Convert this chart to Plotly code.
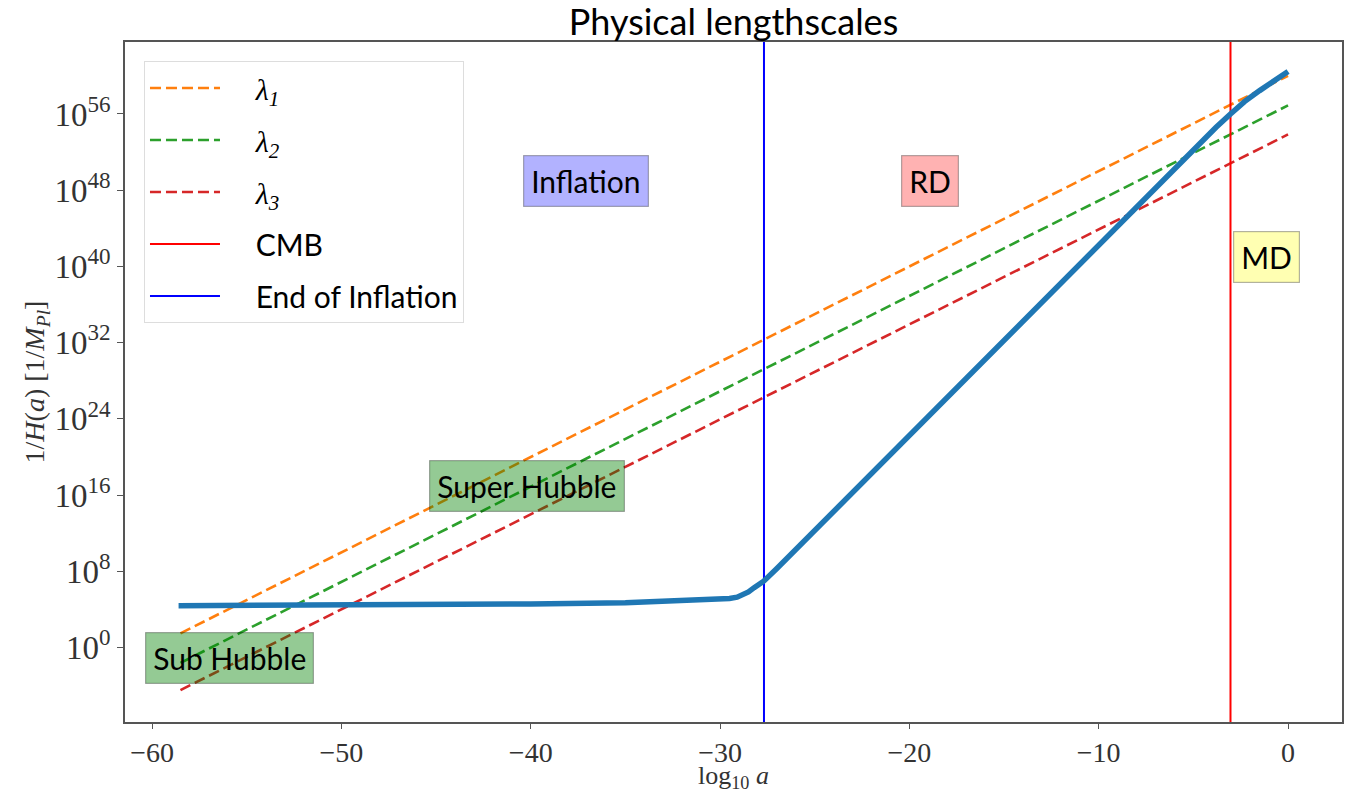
import plotly.graph_objects as go

# ---------------- data ----------------
# log10(a) grid and log10(1/H) of the Hubble length curve
hubble_loga = [-58.6, -55, -50, -45, -40, -35, -31.6, -30, -29.5, -29.1, -28.8, -28.5,
               -28.2, -27.68, -27.0, -25, -20, -15, -10, -6, -4.6, -3.8, -3.04, -2.3,
               -1.5, 0.0]
hubble_logy = [4.40, 4.42, 4.45, 4.50, 4.58, 4.72, 4.92, 5.06, 5.16, 5.30, 5.50, 5.85,
               6.3, 7.0, 8.3, 12.3, 22.3, 32.3, 42.3, 50.3, 53.1, 54.6, 56.0, 57.3,
               58.45, 60.45]

# physical wavelengths lambda_i  (slope 1 in log-log)
lam_loga = [-58.5, 0.0]
lam1_logy = [1.5, 60.0]
lam2_logy = [-1.6, 56.9]
lam3_logy = [-4.45, 53.85]

lam_names = ["λ<sub>1</sub>", "λ<sub>2</sub>", "λ<sub>3</sub>"]
lam_colors = ["#ff7f0e", "#2ca02c", "#d62728"]

cmb_loga = -3.04
end_inflation_loga = -27.68

# region labels: text, x (log10 a), y (log10 of value), fill colour
label_texts = ["Inflation", "RD", "MD", "Super Hubble", "Sub Hubble"]
label_x = [-37.1, -18.9, -1.16, -40.2, -55.9]
label_y = [49.0, 49.0, 41.0, 17.0, -1.08]
label_fill = ["rgba(0,0,255,0.3)", "rgba(255,0,0,0.3)", "rgba(255,255,0,0.3)",
              "rgba(0,128,0,0.42)", "rgba(0,128,0,0.42)"]

x_ticks = [-60, -50, -40, -30, -20, -10, 0]
y_tick_exps = [0, 8, 16, 24, 32, 40, 48, 56]
y_tick_text = ["10<sup>%d</sup>" % e for e in y_tick_exps]

X_RANGE = [-61.43, 2.85]
Y_RANGE = [-7.8, 63.55]

SANS = "Lato"
SERIF = "Liberation Serif"
GAP = "&nbsp;" * 4


def p10(v):
    return float(10.0 ** float(v))


# ---------------- figure ----------------
fig = go.Figure()

for i, (name, ys, col) in enumerate(zip(lam_names, [lam1_logy, lam2_logy, lam3_logy], lam_colors)):
    fig.add_trace(go.Scatter(
        x=lam_loga, y=[p10(v) for v in ys], mode="lines",
        name=GAP + "<span style='font-family:%s'><i>%s</i></span>" % (SERIF, name),
        line=dict(color=col, width=2.6, dash="11px,5px"),
        legendgroup="g%d" % i,
    ))

fig.add_trace(go.Scatter(
    x=[cmb_loga, cmb_loga], y=[p10(Y_RANGE[0]), p10(Y_RANGE[1])], mode="lines",
    name=GAP + "CMB", line=dict(color="#ff0000", width=2), legendgroup="g3",
))
fig.add_trace(go.Scatter(
    x=[end_inflation_loga, end_inflation_loga], y=[p10(Y_RANGE[0]), p10(Y_RANGE[1])],
    mode="lines", name=GAP + "End of Inflation", line=dict(color="#0000ff", width=2),
    legendgroup="g4",
))

fig.add_trace(go.Scatter(
    x=hubble_loga, y=[p10(v) for v in hubble_logy], mode="lines",
    line=dict(color="#1f77b4", width=5.5),
    showlegend=False,
))

for t, x, y, c in zip(label_texts, label_x, label_y, label_fill):
    fig.add_annotation(
        x=x, y=y, xref="x", yref="y", text=t, showarrow=False,
        font=dict(family=SANS, size=30, color="black"),
        bgcolor=c, bordercolor="rgba(0,0,0,0.3)", borderwidth=1.2, borderpad=7,
        xanchor="center", yanchor="middle",
    )

# x-axis label placed below the tick labels
fig.add_annotation(
    x=0.5, y=-(777 - 722) / 680, xref="paper", yref="paper",
    text="log<sub>10</sub> <i>a</i>", showarrow=False,
    font=dict(family=SERIF, size=26, color="#333"),
    xanchor="center", yanchor="middle",
)

fig.update_layout(
    width=1345, height=795,
    margin=dict(l=125, r=3, t=42, b=73),
    paper_bgcolor="white", plot_bgcolor="white",
    title=dict(text="Physical lengthscales", x=(125 + 1342) / 2 / 1345, xanchor="center",
               y=1 - 22 / 795, yanchor="middle", yref="container",
               font=dict(family=SANS, size=36, color="black")),
    legend=dict(x=0.0156, y=0.972, xanchor="left", yanchor="top",
                bgcolor="rgba(255,255,255,0.85)", bordercolor="#dddddd", borderwidth=1,
                font=dict(family=SANS, size=30, color="black"),
                itemwidth=70, tracegroupgap=10),
    showlegend=True,
)

fig.update_xaxes(
    range=X_RANGE, tickvals=x_ticks, ticks="outside", ticklen=5, tickwidth=1.2,
    tickcolor="#555", showline=True, linecolor="#555", linewidth=1.5, mirror=True,
    showgrid=False, zeroline=False, automargin=False,
    tickfont=dict(family=SERIF, size=28, color="#333"),
)
fig.update_yaxes(
    type="log", range=Y_RANGE, tickvals=[p10(e) for e in y_tick_exps], ticktext=y_tick_text,
    ticks="outside", ticklen=6, tickwidth=1.2, tickcolor="#555",
    showline=True, linecolor="#555", linewidth=1.5, mirror=True,
    showgrid=False, zeroline=False, automargin=False,
    tickfont=dict(family=SERIF, size=33, color="#333"),
    title=dict(text="1/<i>H</i>(<i>a</i>) [1/<i>M</i><sub><i>Pl</i></sub>]", standoff=2,
               font=dict(family=SERIF, size=28, color="#333")),
)

fig.write_html("out.html")
